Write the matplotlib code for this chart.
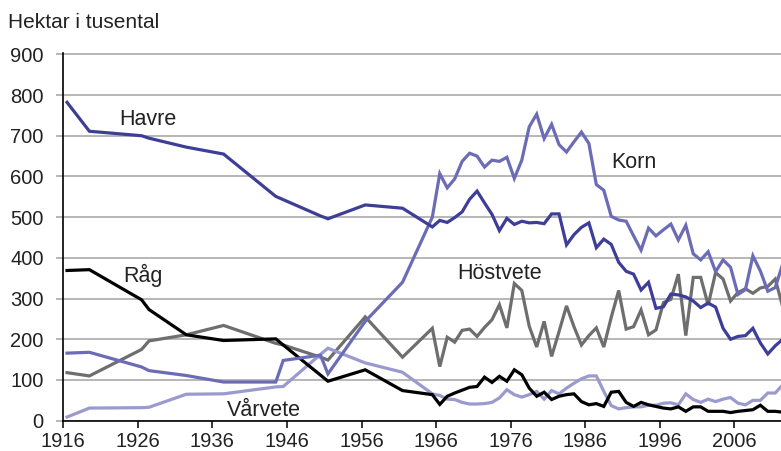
import matplotlib
matplotlib.use("Agg")
import matplotlib.pyplot as plt

plt.rcParams['font.family'] = ['Liberation Sans', 'DejaVu Sans']

years = [1916, 1919, 1926, 1927, 1932, 1937, 1944, 1945, 1950, 1951, 1956, 1961, 1965] + list(range(1966, 2013))

havre = [782, 711, 700, 694, 672, 655, 551, 543, 503, 496, 530, 522, 476,
         492, 487, 499, 513, 544, 564, 535, 507, 467, 497, 482, 490, 486, 487, 484, 508, 508, 432,
         457, 475, 486, 425, 446, 433, 389, 367, 360, 321, 340, 276, 280, 311, 309, 304, 294, 278,
         289, 279, 227, 200, 207, 209, 227, 191, 164, 184, 200]
korn = [166, 168, 132, 123, 111, 95, 95, 148, 161, 115, 244, 340, 500,
        607, 572, 594, 637, 657, 650, 623, 640, 637, 647, 595, 640, 722, 753, 693, 728, 678, 660,
        685, 709, 681, 580, 566, 502, 493, 490, 454, 419, 473, 454, 469, 483, 444, 480, 410, 395,
        415, 366, 395, 377, 310, 322, 405, 368, 318, 327, 385]
rag = [369, 371, 297, 273, 211, 197, 201, 186, 112, 97, 125, 74, 64,
       40, 60, 68, 75, 82, 84, 107, 94, 109, 97, 125, 113, 80, 60, 70, 52, 60, 64,
       66, 47, 39, 42, 35, 70, 72, 45, 35, 45, 39, 35, 31, 29, 34, 23, 34, 34,
       23, 23, 23, 20, 23, 25, 27, 38, 23, 23, 21]
hostvete = [118, 110, 175, 196, 211, 234, 190, 186, 156, 149, 255, 156, 227,
            133, 205, 193, 222, 225, 207, 229, 248, 285, 228, 337, 320, 232, 181, 244, 158, 219, 282,
            231, 186, 209, 228, 181, 254, 320, 225, 231, 272, 211, 223, 290, 298, 360, 209, 352, 352,
            284, 364, 348, 294, 315, 324, 313, 326, 330, 348, 280]
varvete = [9, 31, 32, 33, 65, 66, 83, 84, 163, 178, 142, 119, 66,
           62, 53, 52, 45, 41, 41, 42, 45, 56, 76, 64, 58, 64, 72, 53, 74, 66, 80,
           92, 103, 110, 110, 72, 37, 29, 32, 34, 34, 38, 38, 43, 44, 39, 66, 52, 45,
           53, 47, 53, 57, 43, 39, 50, 50, 68, 68, 88]

tick_years = [1916, 1926, 1936, 1946, 1956, 1966, 1976, 1986, 1996, 2006]
yticks = [0, 100, 200, 300, 400, 500, 600, 700, 800, 900]

series = [
    ("Höstvete", hostvete, "#6e6e6e"),
    ("Vårvete", varvete, "#9a9acf"),
    ("Råg", rag, "#000000"),
    ("Korn", korn, "#6c6cb6"),
    ("Havre", havre, "#3e3e98"),
]

fig = plt.figure(figsize=(7.81, 4.51), dpi=100)
ax = fig.add_axes([63.3 / 781, 1 - 420.7 / 451, 1 - 63.3 / 781, (420.7 - 53.5) / 451])

for name, vals, col in series:
    ax.plot(years, vals, color=col, lw=2.3, solid_joinstyle='miter', zorder=3)

ax.set_xlim(1915.5, 1915.5 + (781 - 63.3) / 7.455)
ax.set_ylim(0, 902)
ax.set_yticks(yticks)
ax.set_yticklabels([str(v) for v in yticks])
ax.set_xticks([y - 0.5 for y in tick_years])
ax.set_xticklabels([str(y) for y in tick_years])

ax.yaxis.grid(True, color="#a3a3a3", lw=1.1, zorder=1)
ax.set_axisbelow(True)
for s in ["top", "right"]:
    ax.spines[s].set_visible(False)
ax.spines["left"].set_color("black")
ax.spines["left"].set_linewidth(1.2)
ax.spines["bottom"].set_color("black")
ax.spines["bottom"].set_linewidth(1.2)

ax.tick_params(axis='y', direction='out', length=5, width=1.1, color="#a3a3a3",
               pad=9, labelsize=14.5, labelcolor="#222222")
ax.tick_params(axis='x', direction='out', length=5, width=1.1, color="black",
               pad=3, labelsize=14.5, labelcolor="#222222")

lab_kw = dict(fontsize=15.5, color="#222222", va='baseline', ha='left', zorder=5)
ax.text(1923.0, 726, "Havre", **lab_kw)
ax.text(1923.5, 341, "Råg", **lab_kw)
ax.text(1937.4, 12, "Vårvete", **lab_kw)
ax.text(1989.0, 621, "Korn", **lab_kw)
ax.text(1968.3, 347, "Höstvete", **lab_kw)

fig.text(8 / 781, 1 - 28.3 / 451, "Hektar i tusental", fontsize=15, color="#222222",
         va='baseline', ha='left')

fig.savefig("out.png", dpi=100)
